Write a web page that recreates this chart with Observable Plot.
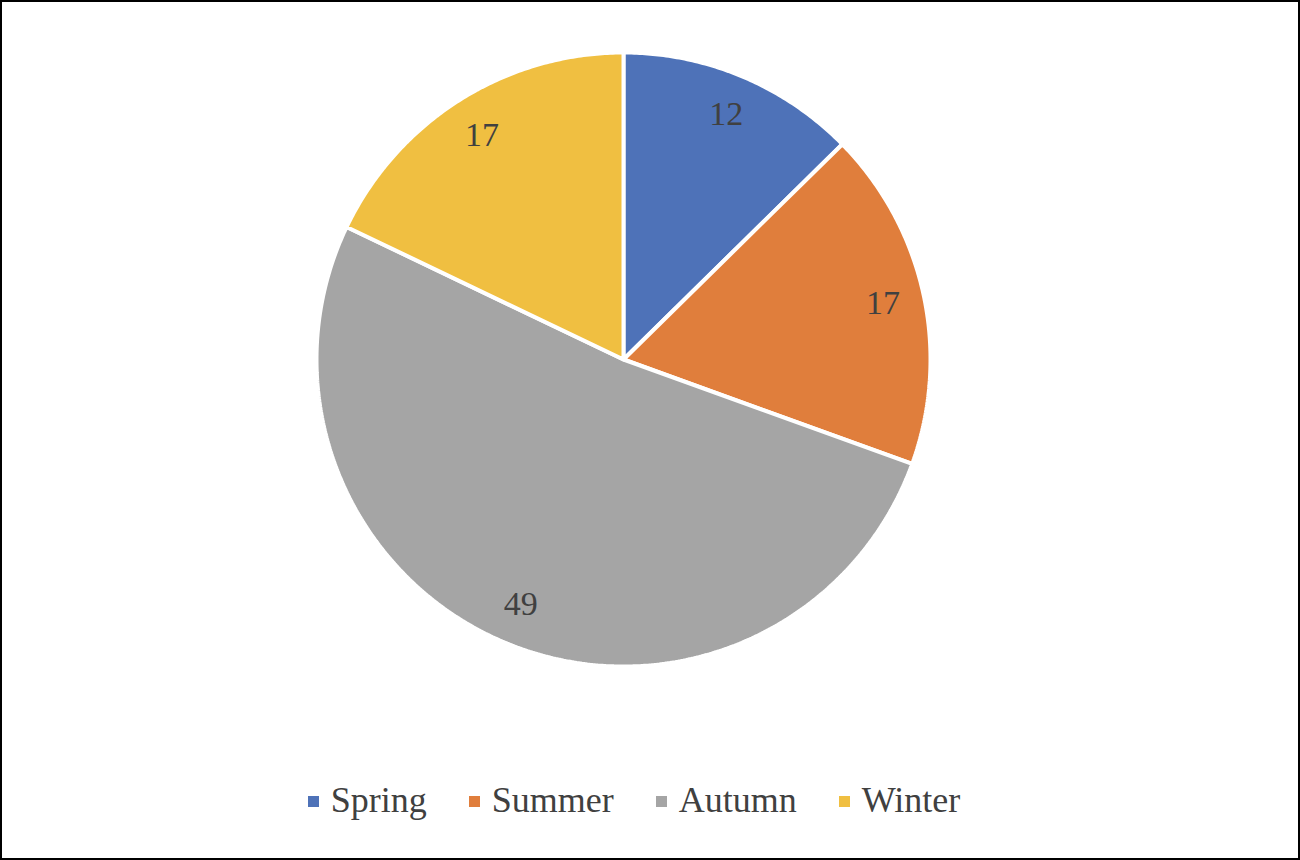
<!DOCTYPE html>
<html>
<head>
<meta charset="utf-8">
<script src="https://cdn.jsdelivr.net/npm/d3@7"></script>
<script src="https://cdn.jsdelivr.net/npm/@observablehq/plot@0.6"></script>
<style>
  html, body { margin: 0; padding: 0; background: #fff; }
  #page { position: relative; width: 1300px; height: 860px; overflow: hidden; background: #fff; }
  #frame { position: absolute; left: 0; top: 0; width: 1300px; height: 860px; box-sizing: border-box; border: 2px solid #000; pointer-events: none; }
  #chart { position: absolute; left: 0; top: 0; }
  #legend { position: absolute; left: 0; top: 778px; width: 1268px; display: flex; justify-content: center; gap: 42px;
            font-family: "Liberation Serif", "Times New Roman", serif; font-size: 36px; line-height: 44px; color: #404040; }
  .item { display: flex; align-items: center; gap: 12px; }
  .sw { width: 11px; height: 11px; display: inline-block; margin-top: 2px; }
</style>
</head>
<body>
<div id="page">
  <div id="chart"></div>
  <div id="legend"></div>
  <div id="frame"></div>
</div>
<script>
const seasons = ["Spring", "Summer", "Autumn", "Winter"];
const values = [12, 17, 49, 17];
const colors = ["#4E72B8", "#E07E3C", "#A5A5A5", "#F0BF41"];

const pie = d3.pie().sort(null).value(d => d.value);
const arcs = pie(seasons.map((s, i) => ({season: s, value: values[i]})));

// polygon outline of each slice, sampled from the computed angles
const slicePts = [];
for (const a of arcs) {
  const s = a.data.season;
  slicePts.push({season: s, x: 0, y: 0});
  const n = Math.max(2, Math.ceil((a.endAngle - a.startAngle) / (Math.PI / 360)));
  for (let k = 0; k <= n; k++) {
    const t = a.startAngle + (a.endAngle - a.startAngle) * k / n;
    slicePts.push({season: s, x: Math.sin(t), y: Math.cos(t)});
  }
  slicePts.push({season: s, x: 0, y: 0});
}
const labelR = 0.865;
const labels = arcs.map(a => {
  const m = (a.startAngle + a.endAngle) / 2;
  return {season: a.data.season, value: a.data.value, x: labelR * Math.sin(m), y: labelR * Math.cos(m)};
});

const chart = Plot.plot({
  width: 1300,
  height: 740,
  marginLeft: 316,
  marginRight: 370,
  marginTop: 52,
  marginBottom: 74,
  x: {domain: [-1, 1], axis: null},
  y: {domain: [-1, 1], axis: null},
  color: {type: "ordinal", domain: seasons, range: colors},
  style: {background: "transparent"},
  marks: [
    Plot.line(slicePts, {x: "x", y: "y", z: "season", fill: "season", stroke: "#fff", strokeWidth: 4, strokeLinejoin: "miter", curve: "linear"}),
    Plot.text(labels, {x: "x", y: "y", text: d => String(d.value), fill: "#404040", fontSize: 34, fontFamily: "Liberation Serif, Times New Roman, serif"})
  ]
});
document.getElementById("chart").appendChild(chart);

const legend = document.getElementById("legend");
seasons.forEach((s, i) => {
  const it = document.createElement("div");
  it.className = "item";
  const sw = document.createElement("span");
  sw.className = "sw";
  sw.style.background = colors[i];
  const tx = document.createElement("span");
  tx.textContent = s;
  it.appendChild(sw); it.appendChild(tx);
  legend.appendChild(it);
});
</script>
</body>
</html>
